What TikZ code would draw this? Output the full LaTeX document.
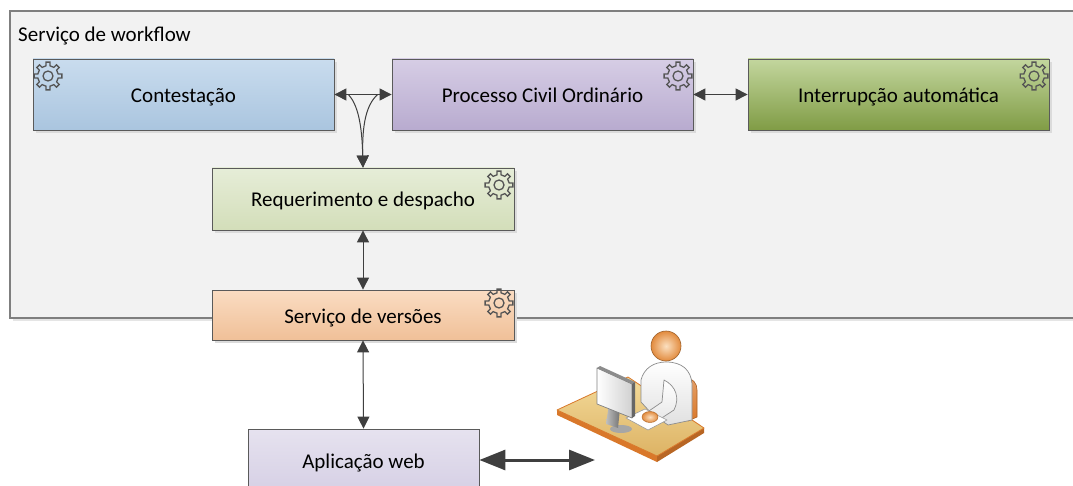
\documentclass[tikz,border=0pt]{standalone}
\usepackage{fontspec}
\setmainfont{Carlito}
\usetikzlibrary{arrows.meta}
\definecolor{frameline}{HTML}{7F7F7F}
\definecolor{framefill}{HTML}{F2F2F2}
\definecolor{boxline}{HTML}{5A5A5A}
\definecolor{arrowc}{HTML}{3F3F3F}
\definecolor{gearc}{HTML}{555555}
\definecolor{blueT}{HTML}{C9DCEE}\definecolor{blueB}{HTML}{AAC5DF}
\definecolor{lilacT}{HTML}{D6CDE5}\definecolor{lilacB}{HTML}{B8ABCF}
\definecolor{greenT}{HTML}{C3D69E}\definecolor{greenB}{HTML}{809C45}
\definecolor{paleT}{HTML}{E6EDD8}\definecolor{paleB}{HTML}{D3DEB9}
\definecolor{peachT}{HTML}{FADCC2}\definecolor{peachB}{HTML}{F0C098}
\definecolor{webT}{HTML}{E6E2EF}\definecolor{webB}{HTML}{D6D0E5}
\definecolor{deskT}{HTML}{F3DA9A}\definecolor{deskB}{HTML}{DDB364}
\definecolor{deskedge}{HTML}{D9782A}
\definecolor{skinIn}{HTML}{FBE0C0}\definecolor{skinOut}{HTML}{E28B3E}
\tikzset{
  box/.style={draw=boxline, line width=0.8pt, rectangle, inner sep=0pt,
    font=\fontsize{21}{24}\selectfont, text=black, text height=16pt, text depth=0pt},
  boxshadow/.style={fill=black!14},
  link/.style={draw=arrowc, line width=1pt, {Triangle[length=12pt,width=12pt]}-{Triangle[length=12pt,width=12pt]}},
  onelink/.style={draw=arrowc, line width=1pt, -{Triangle[length=12pt,width=12pt]}},
  biglink/.style={draw=arrowc, line width=3pt, {Triangle[length=26pt,width=20pt]}-{Triangle[length=26pt,width=20pt]}},
  gear/.pic={
    \draw[gearc, line width=1.3pt]
      ({-11}:10.4pt) \foreach \i in {0,...,7}{
        -- ({\i*45-11}:10.4pt) -- ({\i*45-8}:14pt) -- ({\i*45+8}:14pt) -- ({\i*45+11}:10.4pt)
        arc[start angle=\i*45+11, end angle=\i*45+34, radius=10.4pt]
      } -- cycle;
    \draw[gearc, line width=1.3pt] (0,0) circle[radius=5pt];
  }
}
\begin{document}
\begin{tikzpicture}[x=1pt,y=-1pt]
\clip (0,0) rectangle (1073,486);
\fill[white] (0,0) rectangle (1073,486);

% workflow service frame
\fill[black!10] (13,14) rectangle (1095,321);
\draw[draw=frameline, fill=framefill, line width=1.2pt] (10,11) rectangle (1092,318);
\node[anchor=west, font=\fontsize{21}{24}\selectfont, inner sep=0pt] (title) at (18,36) {Serviço de workflow};

% drop shadows of the boxes
\fill[boxshadow] (36,62) rectangle (337,133);
\fill[boxshadow] (395,62) rectangle (696,133);
\fill[boxshadow] (751,62) rectangle (1052,133);
\fill[boxshadow] (215,171) rectangle (517,233);
\fill[boxshadow] (215,293) rectangle (517,343);

% process boxes
\node[box, top color=blueT, bottom color=blueB, minimum width=301pt, minimum height=71pt] (cont) at (183.5,94.5) {Contestação};
\node[box, top color=lilacT, bottom color=lilacB, minimum width=301pt, minimum height=71pt] (proc) at (542.5,94.5) {Processo Civil Ordinário};
\node[box, top color=greenT, bottom color=greenB, minimum width=301pt, minimum height=71pt] (intr) at (898.5,94.5) {Interrupção automática};
\node[box, top color=paleT, bottom color=paleB, minimum width=302pt, minimum height=62pt] (req) at (363,199) {Requerimento e despacho};
\node[box, top color=peachT, bottom color=peachB, minimum width=302pt, minimum height=50pt] (vers) at (363,315) {Serviço de versões};
\node[box, top color=webT, bottom color=webB, minimum width=231pt, minimum height=62pt] (web) at (363.5,460) {Aplicação web};

% gear marks
\pic at (48,76) {gear};
\pic at (678,76) {gear};
\pic at (1034,76) {gear};
\pic at (499,185) {gear};
\pic at (499,303) {gear};

% connectors
\draw[link] (cont.east) -- (proc.west);
\draw[link] (proc.east) -- (intr.west);
\draw[onelink] (cont.east) ++(14,0) .. controls (358,105) and (362,125) .. (req.north);
\draw[onelink] (proc.west) ++(-14,0) .. controls (366,105) and (362,125) .. (req.north);
\draw[link] (req.south) -- (vers.north);
\draw[link] (vers.south) -- (web.north);

% user at a desk
\coordinate (user) at (595,460);
\begin{scope}[line join=round]
  % desk top and edges
  \fill[deskedge] (557,410) -- (657,456) -- (657,462) -- (557,415) -- cycle;
  \fill[deskedge!85!black] (657,456) -- (704,428) -- (704,433) -- (657,462) -- cycle;
  \shade[top color=deskT, bottom color=deskB, draw=deskedge, line width=0.8pt]
    (557,410) -- (628,377) -- (704,428) -- (657,456) -- cycle;
  % chair back
  \shade[top color=deskedge!70, bottom color=deskedge, draw=deskedge!80!black, line width=0.6pt]
    (686,377) .. controls (693,379) and (697,383) .. (697,390) -- (697,417) -- (688,421) -- cycle;
  % body
  \shade[top color=white, bottom color=black!12, draw=black!45, line width=0.7pt]
    (641,380) .. controls (644,368) and (654,362) .. (666,362)
    .. controls (682,362) and (691,370) .. (692,384)
    -- (692,420) -- (668,425) -- (652,414) -- (641,402) -- cycle;
  % arm
  \shade[top color=white, bottom color=black!10, draw=black!45, line width=0.7pt]
    (664,380) .. controls (676,386) and (680,398) .. (674,410)
    -- (654,423) -- (646,413) -- (662,402) -- cycle;
  % keyboard
  \fill[white, draw=black!40, line width=0.6pt] (626,418) -- (645,409) -- (667,420) -- (648,430) -- cycle;
  % hand
  \shade[inner color=skinIn, outer color=skinOut, draw=skinOut!80!black, line width=0.5pt]
    (650,417) ellipse[x radius=8pt, y radius=5.5pt];
  % monitor stand
  \fill[black!35] (621,429) ellipse[x radius=11pt, y radius=4pt];
  \shade[left color=black!25, right color=black!55] (609,404) -- (620,408) -- (618,428) -- (606,424) -- cycle;
  % monitor
  \shade[left color=white, right color=black!18, draw=black!50, line width=0.7pt]
    (597,368) -- (632,384) -- (632,418) -- (597,404) -- cycle;
  \fill[black!45] (597,368) -- (600,366) -- (635,382) -- (632,384) -- cycle;
  \fill[black!60] (632,384) -- (635,382) -- (635,416) -- (632,418) -- cycle;
  % head
  \shade[inner color=skinIn, outer color=skinOut, draw=skinOut!70!black, line width=0.6pt]
    (666,346) circle[radius=15pt];
\end{scope}
\draw[biglink] (web.east) -- (user);
\end{tikzpicture}
\end{document}
